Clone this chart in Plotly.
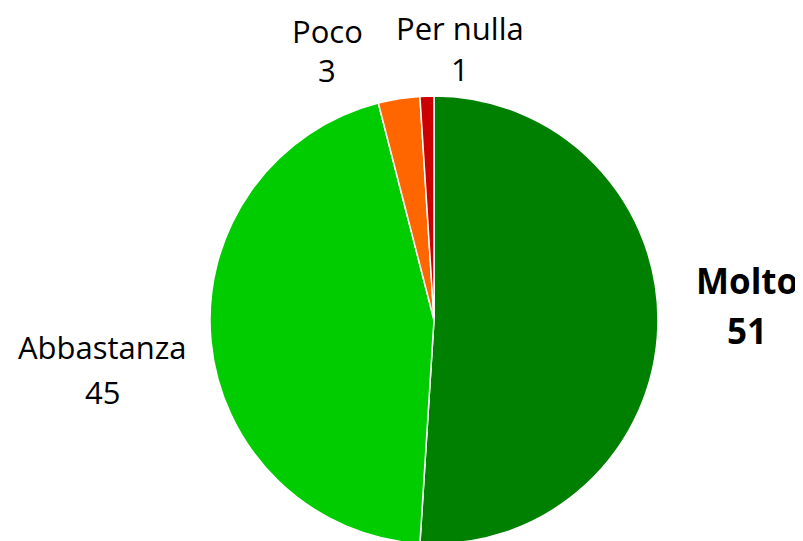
import plotly.graph_objects as go

labels = ["Molto", "Abbastanza", "Poco", "Per nulla"]
values = [51, 45, 3, 1]
colors = ["#008000", "#00CC00", "#FF6600", "#CC0000"]
bold = [True, False, False, False]

W, H = 803, 541
OFF = 8  # page body margin

# outside label placement (screen px): x centre, y of name line, y of value line
label_x = [747, 102, 327, 460]
name_y = [280, 347, 31, 28]
value_y = [330, 392, 70, 69]
font_size = [35, 31, 31, 31]

fig = go.Figure(go.Pie(
    labels=labels,
    values=values,
    marker=dict(colors=colors, line=dict(color="white", width=1.5)),
    sort=False,
    direction="clockwise",
    rotation=0,
    textinfo="none",
    showlegend=False,
    domain=dict(x=[(210 - OFF) / W, (658 - OFF) / W],
                y=[(H - (544 - OFF)) / H, (H - (96 - OFF)) / H]),
))

annotations = []
for lab, val, b, px, ny, vy, fs in zip(labels, values, bold, label_x, name_y, value_y, font_size):
    for txt, py in ((lab, ny), (str(val), vy)):
        if b:
            txt = f"<b>{txt}</b>"
        annotations.append(dict(
            x=(px - OFF) / W, y=1 - (py - OFF) / H, xref="paper", yref="paper",
            text=txt, showarrow=False, xanchor="center", yanchor="middle",
            font=dict(family="Open Sans", size=fs, color="#000000"),
        ))

fig.update_layout(
    width=W, height=H,
    margin=dict(l=0, r=0, t=0, b=0),
    paper_bgcolor="white", plot_bgcolor="white",
    annotations=annotations,
)

fig.write_html("out.html")
